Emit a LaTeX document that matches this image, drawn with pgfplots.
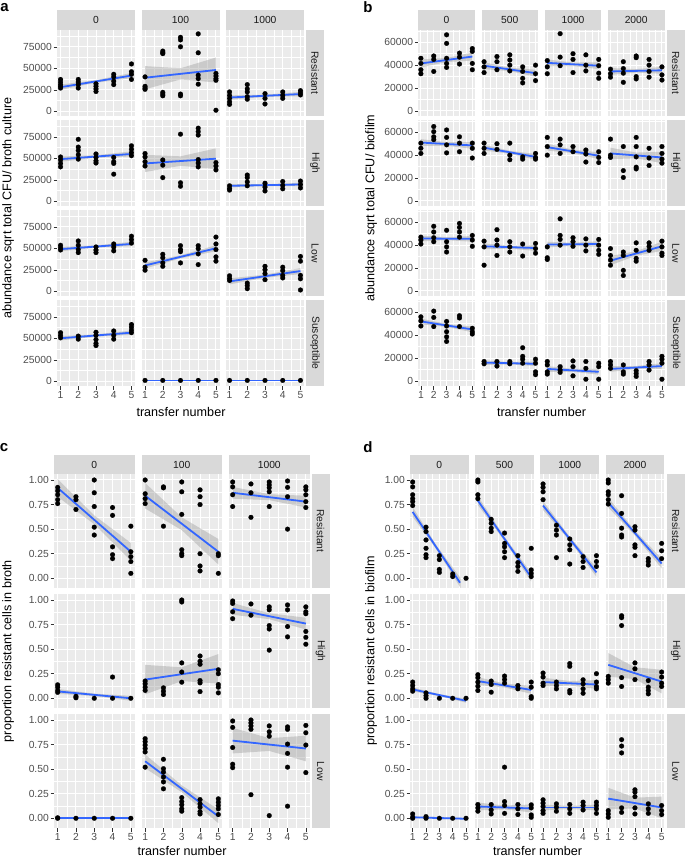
\documentclass[border=0pt]{standalone}
\usepackage{pgfplots}
\pgfplotsset{compat=1.18}
\usepackage{fontspec}
\setmainfont{Liberation Sans}
\definecolor{pbg}{HTML}{EBEBEB}
\definecolor{sbg}{HTML}{D9D9D9}
\definecolor{tcol}{HTML}{4D4D4D}
\definecolor{stxt}{HTML}{1A1A1A}
\definecolor{tickc}{HTML}{333333}
\definecolor{fitc}{HTML}{3366FF}
\newcommand\ticklab{\fontsize{10.3}{12}\selectfont}
\newcommand\striplab{\fontsize{10.3}{12}\selectfont}
\newcommand\titlab{\fontsize{12.6}{15}\selectfont}
\pgfplotsset{
 base/.style={scale only axis, anchor=north west, xmin=0.8, xmax=5.2,
  scaled ticks=false,
  xtick={1,2,3,4,5}, minor xtick={1.5,2.5,3.5,4.5}, grid=both,
  major grid style={draw=white, line width=1pt},
  minor grid style={draw=white, line width=0.5pt},
  axis line style={draw=none}, axis background/.style={fill=pbg},
  xticklabels={}, yticklabels={}, tick pos=left, tick align=outside,
  major tick length=3.5pt, minor tick length=0pt,
  xtick style={draw=none}, ytick style={draw=none},
  tick label style={font=\ticklab, text=tcol, inner sep=1.5pt}, clip=true},
 A/.style={base, width=78pt, height=86pt, ymin=-5500, ymax=94500,
  ytick={0,25000,50000,75000}, minor ytick={12500,37500,62500,87500}},
 Aly/.style={ytick style={draw=tickc, line width=0.5pt}, yticklabels={0,25000,50000,75000}},
 B/.style={base, width=56.6pt, height=86pt, ymin=-4400, ymax=70700,
  ytick={0,20000,40000,60000}, minor ytick={10000,30000,50000,70000}},
 Bly/.style={ytick style={draw=tickc, line width=0.5pt}, yticklabels={0,20000,40000,60000}},
 C/.style={base, width=80.5pt, height=114pt, ymin=-0.099, ymax=1.061,
  ytick={0,0.25,0.5,0.75,1}, minor ytick={0.125,0.375,0.625,0.875}},
 D/.style={C, width=58.7pt},
 Cly/.style={ytick style={draw=tickc, line width=0.5pt}, yticklabels={0.00,0.25,0.50,0.75,1.00}},
 bx/.style={xtick style={draw=tickc, line width=0.5pt}, xticklabels={1,2,3,4,5}},
 pts/.style={only marks, mark=*, mark size=2.4pt, mark options={fill=black, draw=black, line width=0.2pt, solid}},
 rib/.style={fill=black!40, fill opacity=0.4, draw=none, forget plot},
 fit/.style={draw=fitc, line width=1.8pt, no marks},
}
\newcommand{\facet}[6]{\begin{axis}[#3, at={(#1pt,-#2pt)}]
\addplot[pts] coordinates {#4};
\addplot[rib] coordinates {#5};
\addplot[fit] coordinates {#6};
\end{axis}}
\newcommand{\tstrip}[5]{\fill[sbg] (#1,-#3) rectangle ({#1+#2},{-#3-#4});
 \node[font=\striplab, text=stxt, inner sep=0pt] at ({#1+#2/2},{-#3-#4/2}) {#5};}
\newcommand{\rstrip}[5]{\fill[sbg] (#1,-#3) rectangle ({#1+#2},{-#3-#4});
 \node[font=\striplab, text=stxt, rotate=-90, inner sep=0pt] at ({#1+#2/2},{-#3-#4/2}) {#5};}
\begin{document}
\begin{tikzpicture}
\useasboundingbox (0,0) rectangle (685pt,-858pt);
% ================= panel a =================
\facet{57}{30}{A,Aly}{(1,37000)(1,34000)(1,31000)(1,29000)(1,27000)(2,37000)(2,34000)(2,31000)(2,27000)(3,32000)(3,29000)(3,26000)(3,23000)(4,43000)(4,40000)(4,35000)(4,31000)(5,55000)(5,46000)(5,43000)(5,37000)}{(1,25000)(3,33250)(5,38500)(5,44500)(3,36250)(1,31000)}{(1,28000)(5,41500)}
\facet{141.5}{30}{A}{(1,40000)(1,29000)(1,27000)(1,25500)(2,70000)(2,68000)(2,67000)(2,22000)(2,20000)(2,18000)(3,86000)(3,83000)(3,75000)(3,20000)(3,18000)(4,90000)(4,68000)(4,42000)(4,38000)(4,31500)(5,44000)(5,41000)(5,38000)(5,36000)(5,1200)}{(1,25500)(3,37000)(5,33500)(5,62500)(3,50000)(1,52500)}{(1,39000)(5,48000)}
\facet{226}{30}{A}{(1,22500)(1,18500)(1,15000)(1,11000)(1,8000)(2,31000)(2,26000)(2,22500)(2,17000)(2,14000)(3,20500)(3,15000)(3,8500)(4,22500)(4,18500)(4,15000)(5,24000)(5,21500)(5,19000)}{(1,13500)(3,16700)(5,17500)(5,22500)(3,19300)(1,18500)}{(1,16000)(5,20000)}
\facet{57}{120}{A,Aly}{(1,51500)(1,48000)(1,44000)(1,40000)(2,72000)(2,63000)(2,59000)(2,54000)(2,49000)(3,55000)(3,51000)(3,47000)(3,44500)(4,51000)(4,46000)(4,44000)(4,31500)(5,64500)(5,60500)(5,56500)(5,53000)}{(1,46000)(3,50500)(5,52000)(5,58000)(3,53500)(1,52000)}{(1,49000)(5,55000)}
\facet{141.5}{120}{A}{(1,55500)(1,51500)(1,46000)(1,41000)(2,48000)(2,42000)(2,27500)(3,78000)(3,21500)(3,17500)(4,85000)(4,81000)(4,77000)(4,48500)(4,44500)(4,40000)(5,45000)(5,41000)(5,36500)}{(1,34000)(3,41250)(5,37500)(5,61500)(3,52250)(1,54000)}{(1,44000)(5,49500)}
\facet{226}{120}{A}{(1,18000)(1,15000)(1,13000)(2,30500)(2,27500)(2,22500)(2,18000)(3,21000)(3,16500)(3,12000)(4,23000)(4,18500)(4,14500)(5,23500)(5,19500)(5,15500)}{(1,16000)(3,17750)(5,17500)(5,21500)(3,19750)(1,20000)}{(1,18000)(5,19500)}
\facet{57}{210}{A,Aly}{(1,53500)(1,50500)(1,48000)(2,58500)(2,53500)(2,48500)(2,45000)(3,51500)(3,48000)(3,45000)(4,55000)(4,51500)(4,47000)(5,64000)(5,60000)(5,56000)}{(1,46500)(3,50700)(5,52500)(5,57500)(3,53300)(1,51500)}{(1,49000)(5,55000)}
\facet{141.5}{210}{A}{(1,36000)(1,28000)(1,24500)(2,43000)(2,39000)(2,33000)(2,29000)(3,53000)(3,48500)(3,46000)(3,33000)(4,53000)(4,49500)(4,43500)(4,31000)(5,63000)(5,55000)(5,48500)(5,40000)(5,35000)}{(1,26500)(3,38200)(5,46500)(5,53500)(3,41800)(1,33500)}{(1,30000)(5,50000)}
\facet{226}{210}{A}{(1,18000)(1,15000)(1,12500)(2,9500)(2,6500)(2,3000)(3,29000)(3,25000)(3,20500)(3,13500)(4,28000)(4,24000)(4,18500)(4,15500)(5,40500)(5,35000)(5,18500)(5,14500)(5,1500)}{(1,8000)(3,15700)(5,20000)(5,27000)(3,19300)(1,15000)}{(1,11500)(5,23500)}
\facet{57}{300}{A,Aly,bx}{(1,56500)(1,53500)(1,50500)(2,52500)(2,49000)(3,57000)(3,53500)(3,48500)(3,44000)(3,41500)(4,58500)(4,53500)(4,49000)(5,66000)(5,63000)(5,59500)(5,56500)}{(1,47500)(3,51950)(5,54000)(5,59000)(3,54550)(1,52500)}{(1,50000)(5,56500)}
\facet{141.5}{300}{A,bx}{(1,1000)(2,1000)(3,1000)(4,1000)(5,1000)}{(1,800)(5,800)(5,1200)(1,1200)}{(1,1000)(5,1000)}
\facet{226}{300}{A,bx}{(1,1000)(2,1000)(3,1000)(4,1000)(5,1000)}{(1,800)(5,800)(5,1200)(1,1200)}{(1,1000)(5,1000)}
% ================= panel b =================
\facet{418.3}{30}{B,Bly}{(1,46000)(1,41500)(1,36000)(1,32500)(2,48000)(2,45000)(2,34500)(3,66500)(3,59000)(3,46000)(3,41500)(3,38000)(4,50500)(4,47000)(4,41000)(5,54500)(5,52000)(5,41500)(5,36000)}{(1,38000)(3,42700)(5,44000)(5,51000)(3,46300)(1,45000)}{(1,41500)(5,47500)}
\facet{481.5}{30}{B}{(1,43000)(1,38500)(1,33500)(2,47500)(2,43000)(2,36000)(3,49000)(3,44500)(3,40000)(3,35000)(4,38500)(4,34500)(4,28500)(4,24500)(5,40000)(5,32500)(5,26500)}{(1,36500)(3,34750)(5,30000)(5,36000)(3,37750)(1,42500)}{(1,39500)(5,33000)}
\facet{544.7}{30}{B}{(1,44000)(1,38500)(1,32500)(2,67500)(2,47000)(2,39500)(3,50000)(3,45000)(3,33500)(4,49000)(4,40000)(4,35000)(5,45000)(5,39500)(5,33000)(5,28500)}{(1,39000)(3,39250)(5,36500)(5,42500)(3,42250)(1,45000)}{(1,42000)(5,39500)}
\facet{607.9}{30}{B}{(1,36500)(1,32500)(1,29500)(2,43000)(2,37000)(2,33000)(2,25000)(3,48000)(3,46500)(3,30000)(3,28000)(4,45000)(4,40000)(4,34500)(4,29500)(5,38500)(5,31500)(5,27000)}{(1,31500)(3,33500)(5,32500)(5,38500)(3,36500)(1,37500)}{(1,34500)(5,35500)}
\facet{418.3}{120}{B,Bly}{(1,50500)(1,46000)(1,41500)(2,65000)(2,60500)(2,56000)(2,53500)(3,62000)(3,55500)(3,49000)(3,42000)(4,56000)(4,50500)(4,43000)(5,50500)(5,46000)(5,37500)}{(1,48000)(3,48250)(5,45500)(5,51500)(3,51250)(1,54000)}{(1,51000)(5,48500)}
\facet{481.5}{120}{B}{(1,50500)(1,46000)(1,41500)(2,50000)(2,45000)(3,50500)(3,40000)(3,36000)(4,38500)(4,36500)(5,41500)(5,38000)(5,36500)}{(1,44000)(3,41200)(5,36000)(5,41000)(3,43800)(1,49000)}{(1,46500)(5,38500)}
\facet{544.7}{120}{B}{(1,55500)(1,47500)(1,40000)(2,54000)(2,49000)(2,41500)(3,47500)(3,43000)(4,44500)(4,41000)(4,34000)(5,43000)(5,38000)(5,33500)}{(1,44000)(3,41750)(5,36500)(5,42500)(3,44750)(1,50000)}{(1,47000)(5,39500)}
\facet{607.9}{120}{B}{(1,54000)(1,40000)(1,38000)(2,47500)(2,26500)(2,20500)(3,55500)(3,47500)(3,38500)(3,29500)(3,28000)(4,46000)(4,37500)(4,31000)(5,47500)(5,41500)(5,36500)(5,33000)}{(1,36500)(3,37250)(5,33000)(5,43000)(3,42250)(1,46500)}{(1,41500)(5,38000)}
\facet{418.3}{210}{B,Bly}{(1,47000)(1,44500)(1,41000)(2,56500)(2,51500)(2,46500)(2,43000)(3,53000)(3,43000)(3,38500)(3,34000)(4,59000)(4,55500)(4,51500)(4,47000)(5,48500)(5,44500)(5,39000)}{(1,43300)(3,44350)(5,43000)(5,48000)(3,46950)(1,48300)}{(1,45800)(5,45500)}
\facet{481.5}{210}{B}{(1,43500)(1,38500)(1,22500)(2,53500)(2,44500)(2,40000)(2,31000)(3,43000)(3,38500)(3,34000)(4,41000)(4,30500)(5,41500)(5,37000)(5,33000)}{(1,36500)(3,36950)(5,35000)(5,40000)(3,39550)(1,41500)}{(1,39000)(5,37500)}
\facet{544.7}{210}{B}{(1,38500)(1,29000)(1,27500)(2,63000)(2,48500)(2,45000)(2,40000)(3,46500)(3,43000)(3,39000)(4,45500)(4,40000)(4,35000)(5,45000)(5,40000)(5,35500)(5,32000)}{(1,38000)(3,39450)(5,38500)(5,43500)(3,42050)(1,43000)}{(1,40500)(5,41000)}
\facet{607.9}{210}{B}{(1,37000)(1,31000)(1,27000)(1,22500)(2,34000)(2,31000)(2,18000)(2,13500)(3,42000)(3,35500)(3,28500)(3,26000)(4,42000)(4,39000)(4,35500)(5,43500)(5,38500)(5,33000)(5,31000)}{(1,22500)(3,30750)(5,35000)(5,43000)(3,34750)(1,30500)}{(1,26500)(5,39000)}
\facet{418.3}{300}{B,Bly,bx}{(1,56000)(1,52500)(1,48000)(2,61000)(2,55500)(2,47500)(3,52000)(3,48000)(3,43000)(3,38500)(3,34500)(4,57000)(4,55000)(4,47500)(5,46000)(5,43000)(5,41000)}{(1,49500)(3,47200)(5,42500)(5,47500)(3,49800)(1,54500)}{(1,52000)(5,45000)}
\facet{481.5}{300}{B,bx}{(1,17000)(1,15000)(2,17000)(2,13000)(3,17000)(3,15000)(4,29000)(4,21500)(4,19000)(4,15500)(5,19000)(5,15500)(5,8000)(5,5500)}{(1,14000)(3,14500)(5,13000)(5,17000)(3,16500)(1,18000)}{(1,16000)(5,15000)}
\facet{544.7}{300}{B,bx}{(1,17000)(1,14000)(1,8000)(1,6000)(2,12500)(2,9500)(2,7500)(3,17500)(3,12500)(3,4500)(4,17000)(4,11000)(4,1500)(5,15500)(5,12500)(5,1500)}{(1,8000)(3,7950)(5,5500)(5,10500)(3,10550)(1,13000)}{(1,10500)(5,8000)}
\facet{607.9}{300}{B,bx}{(1,17000)(1,14000)(1,11000)(2,14000)(2,8000)(2,6000)(3,9000)(3,6500)(3,4000)(4,17000)(4,14000)(4,9500)(5,21500)(5,19000)(5,15500)(5,1500)}{(1,8000)(3,10450)(5,10500)(5,15500)(3,13050)(1,13000)}{(1,10500)(5,13000)}
% ================= panel c =================
\facet{54}{474}{C,Cly}{(1,0.925)(1,0.89)(1,0.85)(1,0.80)(1,0.76)(2,0.83)(2,0.80)(2,0.70)(3,1.00)(3,0.87)(3,0.73)(3,0.52)(3,0.44)(4,0.72)(4,0.64)(4,0.32)(4,0.24)(4,0.20)(5,0.53)(5,0.27)(5,0.22)(5,0.17)(5,0.05)}{(1,0.83)(3,0.55)(5,0.18)(5,0.36)(3,0.64)(1,1.01)}{(1,0.92)(5,0.27)}
\facet{141.5}{474}{C}{(1,1.0)(1,0.86)(1,0.81)(1,0.76)(2,0.93)(2,0.92)(2,0.53)(3,0.98)(3,0.88)(3,0.65)(3,0.29)(3,0.25)(3,0.23)(4,0.90)(4,0.83)(4,0.75)(4,0.25)(4,0.125)(4,0.075)(5,0.25)(5,0.23)(5,0.05)}{(1,0.71)(3,0.49)(5,0.14)(5,0.40)(3,0.62)(1,0.97)}{(1,0.84)(5,0.27)}
\facet{229}{474}{C}{(1,0.98)(1,0.93)(1,0.85)(1,0.73)(2,0.96)(2,0.87)(2,0.62)(3,0.98)(3,0.95)(3,0.92)(3,0.88)(3,0.73)(4,0.99)(4,0.925)(4,0.83)(4,0.50)(5,0.93)(5,0.90)(5,0.85)(5,0.78)(5,0.72)}{(1,0.81)(3,0.795)(5,0.72)(5,0.84)(3,0.855)(1,0.93)}{(1,0.87)(5,0.78)}
\facet{54}{594}{C,Cly}{(1,0.137)(1,0.113)(1,0.08)(1,0.06)(2,0.02)(2,0.005)(3,0.0)(4,0.216)(4,0.0)(5,0.0)}{(1,0.045)(3,0.023)(5,-0.025)(5,0.025)(3,0.047)(1,0.095)}{(1,0.07)(5,0.0)}
\facet{141.5}{594}{C}{(1,0.175)(1,0.147)(1,0.113)(1,0.08)(2,0.106)(2,0.072)(2,0.038)(3,1.0)(3,0.98)(3,0.36)(3,0.267)(3,0.164)(4,0.43)(4,0.377)(4,0.346)(4,0.18)(4,0.157)(4,0.068)(5,0.29)(5,0.25)(5,0.14)(5,0.113)(5,0.055)}{(1,0.04)(3,0.175)(5,0.15)(5,0.45)(3,0.315)(1,0.34)}{(1,0.19)(5,0.30)}
\facet{229}{594}{C}{(1,0.99)(1,0.965)(1,0.88)(1,0.81)(2,0.96)(2,0.845)(3,0.93)(3,0.90)(3,0.74)(3,0.705)(3,0.49)(4,0.95)(4,0.90)(4,0.73)(4,0.625)(5,0.93)(5,0.88)(5,0.86)(5,0.68)(5,0.62)(5,0.55)}{(1,0.85)(3,0.805)(5,0.70)(5,0.82)(3,0.865)(1,0.97)}{(1,0.91)(5,0.76)}
\facet{54}{714}{C,Cly,bx}{(1,0.005)(1,0.0)(2,0.0)(3,0.0)(4,0.0)(5,0.0)}{(1,-0.004)(5,-0.004)(5,0.004)(1,0.004)}{(1,0.0)(5,0.0)}
\facet{141.5}{714}{C,bx}{(1,0.81)(1,0.78)(1,0.745)(1,0.71)(1,0.675)(1,0.52)(2,0.60)(2,0.505)(2,0.47)(2,0.42)(2,0.37)(2,0.30)(3,0.21)(3,0.17)(3,0.137)(3,0.096)(3,0.072)(4,0.19)(4,0.147)(4,0.113)(4,0.068)(4,0.044)(5,0.198)(5,0.164)(5,0.13)(5,0.096)(5,0.038)}{(1,0.51)(3,0.265)(5,-0.05)(5,0.09)(3,0.335)(1,0.65)}{(1,0.58)(5,0.02)}
\facet{229}{714}{C,bx}{(1,0.99)(1,0.925)(1,0.72)(1,0.55)(1,0.515)(2,1.0)(2,0.97)(2,0.94)(2,0.905)(2,0.24)(3,0.94)(3,0.88)(3,0.835)(3,0.027)(4,0.93)(4,0.905)(4,0.755)(4,0.66)(4,0.52)(4,0.123)(5,0.945)(5,0.87)(5,0.745)(5,0.465)}{(1,0.66)(3,0.685)(5,0.58)(5,0.84)(3,0.815)(1,0.92)}{(1,0.79)(5,0.71)}
% ================= panel d =================
\facet{410}{474}{D,Cly}{(1,0.98)(1,0.93)(1,0.85)(1,0.81)(1,0.78)(1,0.74)(2,0.52)(2,0.475)(2,0.39)(2,0.305)(2,0.24)(2,0.21)(3,0.23)(3,0.19)(3,0.09)(3,0.06)(4,0.044)(4,0.017)(5,0.0)}{(1,0.625)(2.8,0.29)(4.6,-0.10)(4.6,0.0)(2.8,0.33)(1,0.725)}{(1,0.675)(4.55,-0.045)}
\facet{475.2}{474}{D}{(1,1.0)(1,0.98)(1,0.85)(1,0.81)(2,0.60)(2,0.56)(2,0.51)(2,0.475)(3,0.46)(3,0.355)(3,0.32)(3,0.27)(3,0.21)(4,0.23)(4,0.16)(4,0.12)(4,0.07)(5,0.305)(5,0.085)(5,0.05)(5,0.017)}{(1,0.745)(3,0.378)(5,-0.035)(5,0.055)(3,0.422)(1,0.835)}{(1,0.79)(5,0.01)}
\facet{540.4}{474}{D}{(1,0.96)(1,0.925)(1,0.88)(1,0.80)(2,0.54)(2,0.49)(2,0.44)(2,0.21)(3,0.40)(3,0.34)(3,0.29)(3,0.145)(4,0.22)(4,0.17)(4,0.11)(5,0.23)(5,0.17)(5,0.12)}{(1,0.695)(3,0.378)(5,0.015)(5,0.105)(3,0.422)(1,0.785)}{(1,0.74)(5,0.06)}
\facet{605.6}{474}{D}{(1,1.0)(1,0.97)(1,0.88)(1,0.85)(1,0.80)(1,0.755)(2,0.84)(2,0.66)(2,0.51)(2,0.44)(2,0.42)(3,0.525)(3,0.49)(3,0.34)(3,0.315)(3,0.23)(4,0.20)(4,0.17)(4,0.135)(5,0.355)(5,0.28)(5,0.20)}{(1,0.72)(3,0.435)(5,0.10)(5,0.20)(3,0.485)(1,0.82)}{(1,0.77)(5,0.15)}
\facet{410}{594}{D,Cly}{(1,0.165)(1,0.13)(1,0.096)(1,0.072)(2,0.055)(2,0.027)(2,0.0)(3,0.0)(4,0.0)(5,0.0)}{(1,0.07)(3,0.0225)(5,-0.045)(5,-0.005)(3,0.0425)(1,0.11)}{(1,0.09)(5,-0.025)}
\facet{475.2}{594}{D}{(1,0.24)(1,0.21)(1,0.165)(1,0.123)(1,0.079)(2,0.175)(2,0.14)(2,0.062)(3,0.226)(3,0.19)(3,0.154)(4,0.13)(4,0.096)(5,0.165)(5,0.113)(5,0.017)(5,0.0)}{(1,0.135)(3,0.11)(5,0.045)(5,0.125)(3,0.15)(1,0.215)}{(1,0.175)(5,0.085)}
\facet{540.4}{594}{D}{(1,0.257)(1,0.216)(1,0.154)(1,0.13)(2,0.165)(2,0.13)(2,0.096)(3,0.353)(3,0.325)(3,0.079)(3,0.055)(4,0.188)(4,0.147)(4,0.096)(4,0.051)(5,0.25)(5,0.165)(5,0.12)(5,0.096)}{(1,0.12)(3,0.13)(5,0.095)(5,0.185)(3,0.175)(1,0.21)}{(1,0.165)(5,0.14)}
\facet{605.6}{594}{D}{(1,0.223)(1,0.19)(1,0.154)(2,0.84)(2,0.82)(2,0.74)(2,0.21)(2,0.12)(3,0.36)(3,0.30)(3,0.19)(4,0.18)(4,0.113)(4,0.079)(4,0.045)(5,0.267)(5,0.216)(5,0.154)(5,0.12)}{(1,0.22)(3,0.195)(5,0.05)(5,0.29)(3,0.315)(1,0.46)}{(1,0.34)(5,0.17)}
\facet{410}{714}{D,Cly,bx}{(1,0.044)(1,0.01)(1,0.0)(2,0.017)(2,0.0)(3,0.0)(4,0.0)(5,0.0)}{(1,0.0)(5,-0.013)(5,0.003)(1,0.02)}{(1,0.01)(5,-0.005)}
\facet{475.2}{714}{D,bx}{(1,0.14)(1,0.106)(1,0.072)(2,0.14)(2,0.085)(2,0.044)(3,0.52)(3,0.17)(3,0.13)(3,0.05)(4,0.14)(4,0.096)(4,0.038)(5,0.137)(5,0.106)(5,0.034)(5,0.01)}{(1,0.08)(3,0.09)(5,0.06)(5,0.14)(3,0.13)(1,0.16)}{(1,0.12)(5,0.10)}
\facet{540.4}{714}{D,bx}{(1,0.188)(1,0.154)(1,0.12)(1,0.078)(1,0.05)(2,0.147)(2,0.113)(2,0.072)(3,0.14)(3,0.096)(3,0.05)(4,0.164)(4,0.13)(4,0.085)(5,0.164)(5,0.13)(5,0.096)(5,0.05)}{(1,0.08)(3,0.095)(5,0.08)(5,0.14)(3,0.125)(1,0.14)}{(1,0.11)(5,0.11)}
\facet{605.6}{714}{D,bx}{(1,0.078)(1,0.044)(1,0.01)(2,0.80)(2,0.735)(2,0.665)(2,0.106)(2,0.06)(3,0.29)(3,0.266)(3,0.22)(3,0.106)(3,0.044)(4,0.147)(4,0.096)(4,0.05)(5,0.13)(5,0.078)(5,0.038)}{(1,0.09)(3,0.10)(5,0.0)(5,0.22)(3,0.21)(1,0.31)}{(1,0.20)(5,0.11)}
% ================= strips & titles (1 unit = 1pt) =================
\begin{scope}[x=1pt, y=1pt]
\tstrip{57}{78}{10}{20}{0}
\tstrip{141.5}{78}{10}{20}{100}
\tstrip{226}{78}{10}{20}{1000}
\rstrip{306}{18}{30}{86}{Resistant}
\rstrip{306}{18}{120}{86}{High}
\rstrip{306}{18}{210}{86}{Low}
\rstrip{306}{18}{300}{86}{Susceptible}
\tstrip{418.3}{56.6}{10}{20}{0}
\tstrip{481.5}{56.6}{10}{20}{500}
\tstrip{544.7}{56.6}{10}{20}{1000}
\tstrip{607.9}{56.6}{10}{20}{2000}
\rstrip{666.5}{18.5}{30}{86}{Resistant}
\rstrip{666.5}{18.5}{120}{86}{High}
\rstrip{666.5}{18.5}{210}{86}{Low}
\rstrip{666.5}{18.5}{300}{86}{Susceptible}
\tstrip{54}{80.5}{455}{19}{0}
\tstrip{141.5}{80.5}{455}{19}{100}
\tstrip{229}{80.5}{455}{19}{1000}
\rstrip{311.5}{18}{474}{114}{Resistant}
\rstrip{311.5}{18}{594}{114}{High}
\rstrip{311.5}{18}{714}{114}{Low}
\tstrip{410}{58.7}{455}{19}{0}
\tstrip{475.2}{58.7}{455}{19}{500}
\tstrip{540.4}{58.7}{455}{19}{1000}
\tstrip{605.6}{58.7}{455}{19}{2000}
\rstrip{666.5}{18.5}{474}{114}{Resistant}
\rstrip{666.5}{18.5}{594}{114}{High}
\rstrip{666.5}{18.5}{714}{114}{Low}
\node[font=\titlab, rotate=90] at (8,-208) {abundance sqrt total CFU/ broth culture};
\node[font=\titlab, rotate=90] at (371,-208) {abundance sqrt total CFU/ biofilm};
\node[font=\titlab, rotate=90] at (8,-651) {proportion resistant cells in broth};
\node[font=\titlab, rotate=90] at (371,-651) {proportion resistant cells in biofilm};
\node[font=\titlab, inner sep=0pt] at (181,-412) {transfer number};
\node[font=\titlab, inner sep=0pt] at (541.5,-412) {transfer number};
\node[font=\titlab, inner sep=0pt] at (182,-850.5) {transfer number};
\node[font=\titlab, inner sep=0pt] at (537.5,-850.5) {transfer number};
\node[font=\bfseries\fontsize{15}{18}\selectfont] at (4.5,-7.5) {a};
\node[font=\bfseries\fontsize{15}{18}\selectfont] at (368,-7) {b};
\node[font=\bfseries\fontsize{15}{18}\selectfont] at (4,-448) {c};
\node[font=\bfseries\fontsize{15}{18}\selectfont] at (368,-447) {d};
\end{scope}
\end{tikzpicture}
\end{document}
